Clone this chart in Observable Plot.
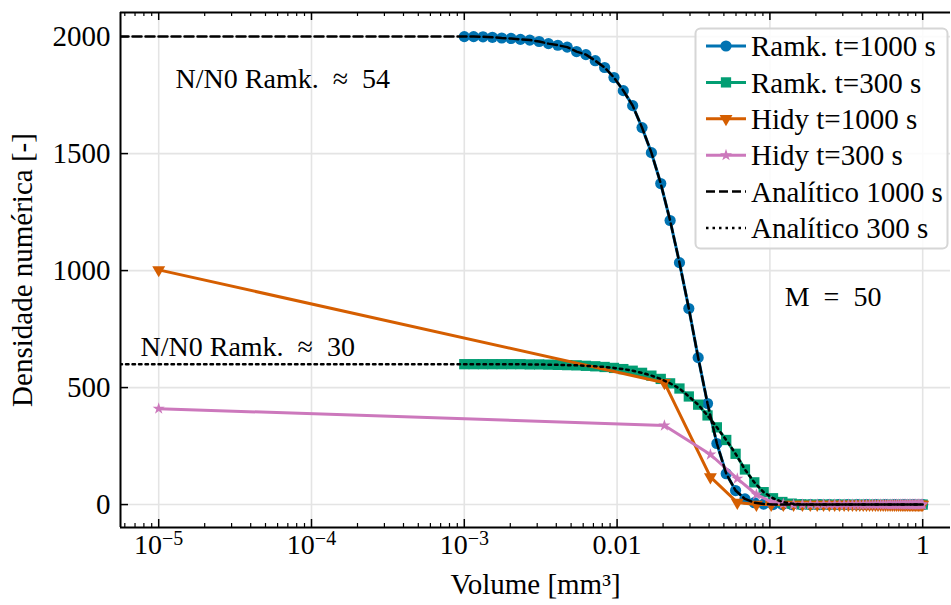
<!DOCTYPE html>
<html><head><meta charset="utf-8">
<script src="https://cdn.jsdelivr.net/npm/d3@7"></script>
<script src="https://cdn.jsdelivr.net/npm/@observablehq/plot@0.6"></script>
<style>
html,body{margin:0;padding:0;background:#fff;overflow:hidden}
#chart{position:relative;width:951px;height:605px}
svg{display:block}
</style></head><body><div id="chart"></div>
<script>
// Ramkrishna grid (M = 50, log-spaced volumes, mm^3)
const ramkV = [0.001,0.0011514,0.0013257,0.0015264,0.0017575,0.0020236,0.0023300,0.0026827,0.0030888,0.0035565,
  0.0040949,0.0047149,0.0054287,0.0062506,0.0071969,0.0082864,0.0095410,0.010985,0.012649,0.014563,
  0.016768,0.019307,0.022230,0.025595,0.029471,0.033932,0.039069,0.044984,0.051795,0.059636,
  0.068665,0.079060,0.091030,0.10481,0.12068,0.13895,0.15999,0.18421,0.21210,0.24421,
  0.28119,0.32375,0.37276,0.42919,0.49417,0.56899,0.65513,0.75431,0.86851,1.0];
const ramk1000 = [2000,2000,1999,1997,1994,1992,1988,1985,1979,1970,
  1963,1955,1936,1923,1897,1868,1825,1769,1705,1611,
  1504,1372,1214,1034,838,628,432,261,132,60,
  24,8,2,0,0,0,0,0,0,0,
  0,0,0,0,0,0,0,0,0,0];
const ramk300 = [600,600,600,600,600,600,600,599,599,598,
  597,596,595,593,591,588,584,579,572,563,
  551,537,518,496,462,427,381,330,276,217,
  150,95,53,27,11,4,1,0,0,0,
  0,0,0,0,0,0,0,0,0,0];
// Hidy grid (M = 50, linearly spaced volumes)
const hidyV = [0.00001,0.0204,0.0408,0.0612,0.0816,0.1020,0.1224,0.1429,0.1633,0.1837,
  0.2041,0.2245,0.2449,0.2653,0.2857,0.3061,0.3265,0.3469,0.3673,0.3878,
  0.4082,0.4286,0.4490,0.4694,0.4898,0.5102,0.5306,0.5510,0.5714,0.5918,
  0.6122,0.6327,0.6531,0.6735,0.6939,0.7143,0.7347,0.7551,0.7755,0.7959,
  0.8163,0.8367,0.8571,0.8776,0.8980,0.9184,0.9388,0.9592,0.9796,1.0];
const hidy1000 = [1003,521,118,9,0,0,0,0,0,0, 0,0,0,0,0,0,0,0,0,0, 0,0,0,0,0,0,0,0,0,0, 0,0,0,0,0,0,0,0,0,0, 0,0,0,0,0,0,0,0,0,0];
const hidy300  = [410,338,214,111,43,12,3,0,0,0, 0,0,0,0,0,0,0,0,0,0, 0,0,0,0,0,0,0,0,0,0, 0,0,0,0,0,0,0,0,0,0, 0,0,0,0,0,0,0,0,0,0];
// analytic curves: start at v -> 0 (off the left edge), then follow the Ramk. grid
const analyticV0 = 1e-9;
const analytic1000 = ramk1000;
const analytic300 = ramk300;

const xTicks = [1e-5,1e-4,1e-3,0.01,0.1,1];
const xTickLabels = ["10^-5","10^-4","10^-3","0.01","0.1","1"];
const yTicks = [0,500,1000,1500,2000];
const seriesNames = ["Ramk. t=1000 s","Ramk. t=300 s","Hidy t=1000 s","Hidy t=300 s","Analítico 1000 s","Analítico 300 s"];
const seriesColors = ["#0173b2","#029e73","#d55e00","#cc78bc","#000000","#000000"];
const notes = [
  {x: 1.29e-5, y: 1820, text: "N/N0 Ramk.\u2002≈\u200254"},
  {x: 7.6e-6, y: 675, text: "N/N0 Ramk.\u2002≈\u200230"},
  {x: 0.125, y: 885, text: "M\u2002=\u200250"}
];

const FONT = "Liberation Serif";
const W = 951, H = 605, mL = 120, mR = 1, mT = 12, mB = 78;
const xDomain = [Math.pow(10,-5.25), Math.pow(10,0.182)];
const yDomain = [-98, 2103];
const pxPerY = (H - mT - mB) / (yDomain[1] - yDomain[0]);
const decPx = (W - mL - mR) / (Math.log10(xDomain[1]) - Math.log10(xDomain[0]));

const minorX = [];
for (let k = -6; k <= 0; k++) for (let m = 2; m <= 9; m++) {
  const v = m * Math.pow(10, k);
  if (v > xDomain[0] && v < xDomain[1]) minorX.push(v);
}

const ramkRows1000 = ramkV.map((v,i)=>({v, n: ramk1000[i]}));
const ramkRows300 = ramkV.map((v,i)=>({v, n: ramk300[i]}));
const hidyRows1000 = hidyV.map((v,i)=>({v, n: hidy1000[i]}));
const hidyRows300 = hidyV.map((v,i)=>({v, n: hidy300[i]}));
const an1000 = [{v: analyticV0, n: analytic1000[0]}, ...ramkV.map((v,i)=>({v, n: analytic1000[i]}))];
const an300 = [{v: analyticV0, n: analytic300[0]}, ...ramkV.map((v,i)=>({v, n: analytic300[i]}))];

const tickY = (px) => px / pxPerY;
const tickXEnd = (px) => Math.pow(10, Math.log10(xDomain[0]) + px / decPx);

const rBlue = 5.6, rGreen = 5.8, rOrange = 4.8, rPink = 3.8;

const plot = Plot.plot({
  width: W, height: H,
  marginLeft: mL, marginRight: mR, marginTop: mT, marginBottom: mB,
  x: {type: "log", domain: xDomain, axis: null},
  y: {domain: yDomain, axis: null},
  style: {fontFamily: FONT, background: "#fff"},
  marks: [
    Plot.ruleX(xTicks, {x: d=>d, stroke: "#e4e4e4", strokeWidth: 1.6}),
    Plot.ruleY(yTicks, {y: d=>d, stroke: "#e4e4e4", strokeWidth: 1.6}),
    // series
    Plot.line(ramkRows1000, {x: "v", y: "n", stroke: seriesColors[0], strokeWidth: 3, clip: true}),
    Plot.dot(ramkRows1000, {x: "v", y: "n", fill: seriesColors[0], r: rBlue, symbol: "circle", clip: true}),
    Plot.line(ramkRows300, {x: "v", y: "n", stroke: seriesColors[1], strokeWidth: 3, clip: true}),
    Plot.dot(ramkRows300, {x: "v", y: "n", fill: seriesColors[1], r: rGreen, symbol: "square", clip: true}),
    Plot.line(hidyRows1000, {x: "v", y: "n", stroke: seriesColors[2], strokeWidth: 3, clip: true}),
    Plot.dot(hidyRows1000, {x: "v", y: "n", fill: seriesColors[2], r: rOrange, symbol: "triangle", rotate: 180, clip: true}),
    Plot.line(hidyRows300, {x: "v", y: "n", stroke: seriesColors[3], strokeWidth: 3, clip: true}),
    Plot.dot(hidyRows300, {x: "v", y: "n", fill: seriesColors[3], r: rPink, symbol: "star", clip: true}),
    Plot.line(an1000, {x: "v", y: "n", stroke: "#000", strokeWidth: 2.5, strokeDasharray: "9,4", clip: true}),
    Plot.line(an300, {x: "v", y: "n", stroke: "#000", strokeWidth: 2.5, strokeDasharray: "2.5,4", clip: true}),
    // annotations
    Plot.text(notes, {x: "x", y: "y", text: "text", textAnchor: "start", fontSize: 28, fill: "#000"}),
    // frame lines (left, top, bottom)
    Plot.ruleY([yDomain[0]], {stroke: "#000", strokeWidth: 2}),
    Plot.ruleY([yDomain[1]], {stroke: "#000", strokeWidth: 2}),
    Plot.ruleX([xDomain[0]], {stroke: "#000", strokeWidth: 2}),
    // inward ticks
    Plot.ruleX(xTicks, {x: d=>d, y1: yDomain[0], y2: yDomain[0] + tickY(8), stroke: "#000", strokeWidth: 1.5}),
    Plot.ruleX(minorX, {x: d=>d, y1: yDomain[0], y2: yDomain[0] + tickY(4), stroke: "#000", strokeWidth: 1.2}),
    Plot.ruleX(xTicks, {x: d=>d, y1: yDomain[1], y2: yDomain[1] - tickY(8), stroke: "#000", strokeWidth: 1.5}),
    Plot.ruleX(minorX, {x: d=>d, y1: yDomain[1], y2: yDomain[1] - tickY(4), stroke: "#000", strokeWidth: 1.2}),
    Plot.ruleY(yTicks, {y: d=>d, x1: xDomain[0], x2: tickXEnd(8), stroke: "#000", strokeWidth: 1.5}),
    // tick labels
    Plot.text(xTicks, {x: d=>d, frameAnchor: "bottom", dy: 26, text: (d,i)=>xTickLabels[i], fontSize: 28, fill: "#000"}),
    Plot.text(yTicks, {y: d=>d, frameAnchor: "left", dx: -10, textAnchor: "end", text: d=>String(d), fontSize: 29, fill: "#000"}),
    // axis labels
    Plot.text(["Volume [mm³]"], {frameAnchor: "bottom", dy: 66, textAnchor: "middle", text: d=>d, fontSize: 29, fill: "#000"}),
    Plot.text(["Densidade numérica [-]"], {frameAnchor: "left", dx: -98, textAnchor: "middle", rotate: -90, text: d=>d, fontSize: 29, fill: "#000"})
  ]
});
document.getElementById("chart").appendChild(plot);

// superscript exponents in log tick labels
d3.select(plot).selectAll("text").each(function() {
  const t = this.textContent;
  const m = /^10\^(-?\d+)$/.exec(t);
  if (!m) return;
  const el = d3.select(this);
  el.text("");
  el.append("tspan").text("10");
  el.append("tspan").attr("dy", "-0.42em").attr("font-size", "20").text(m[1].replace("-", "−"));
});

// legend
const svg = d3.select(plot);
const lg = svg.append("g").attr("font-family", FONT).attr("font-size", 29).attr("text-anchor", "start");
lg.append("rect").attr("x", 695.5).attr("y", 28.5).attr("width", 252).attr("height", 220)
  .attr("rx", 5).attr("fill", "#fff").attr("fill-opacity", 0.85).attr("stroke", "#d6d6d6").attr("stroke-width", 2);
const symbols = [d3.symbolCircle, d3.symbolSquare, d3.symbolTriangle, d3.symbolStar, null, null];
const symSize = [Math.PI*rBlue*rBlue, Math.PI*rGreen*rGreen, Math.PI*rOrange*rOrange, Math.PI*rPink*rPink];
seriesNames.forEach((name, i) => {
  const cy = 46 + i * 36.4;
  const ln = lg.append("line").attr("x1", 706).attr("x2", 746).attr("y1", cy).attr("y2", cy)
    .attr("stroke", seriesColors[i]).attr("stroke-width", i < 4 ? 3 : 2.5);
  if (i === 4) ln.attr("stroke-dasharray", "9,4");
  if (i === 5) ln.attr("stroke-dasharray", "2.5,4");
  if (symbols[i]) {
    lg.append("path").attr("d", d3.symbol(symbols[i], symSize[i])())
      .attr("transform", `translate(726,${cy})` + (i === 2 ? " rotate(180)" : ""))
      .attr("fill", seriesColors[i]);
  }
  lg.append("text").attr("x", 751).attr("y", cy).attr("dy", "0.35em").attr("fill", "#000").attr("text-anchor", "start").text(name);
});
</script>
</body></html>
